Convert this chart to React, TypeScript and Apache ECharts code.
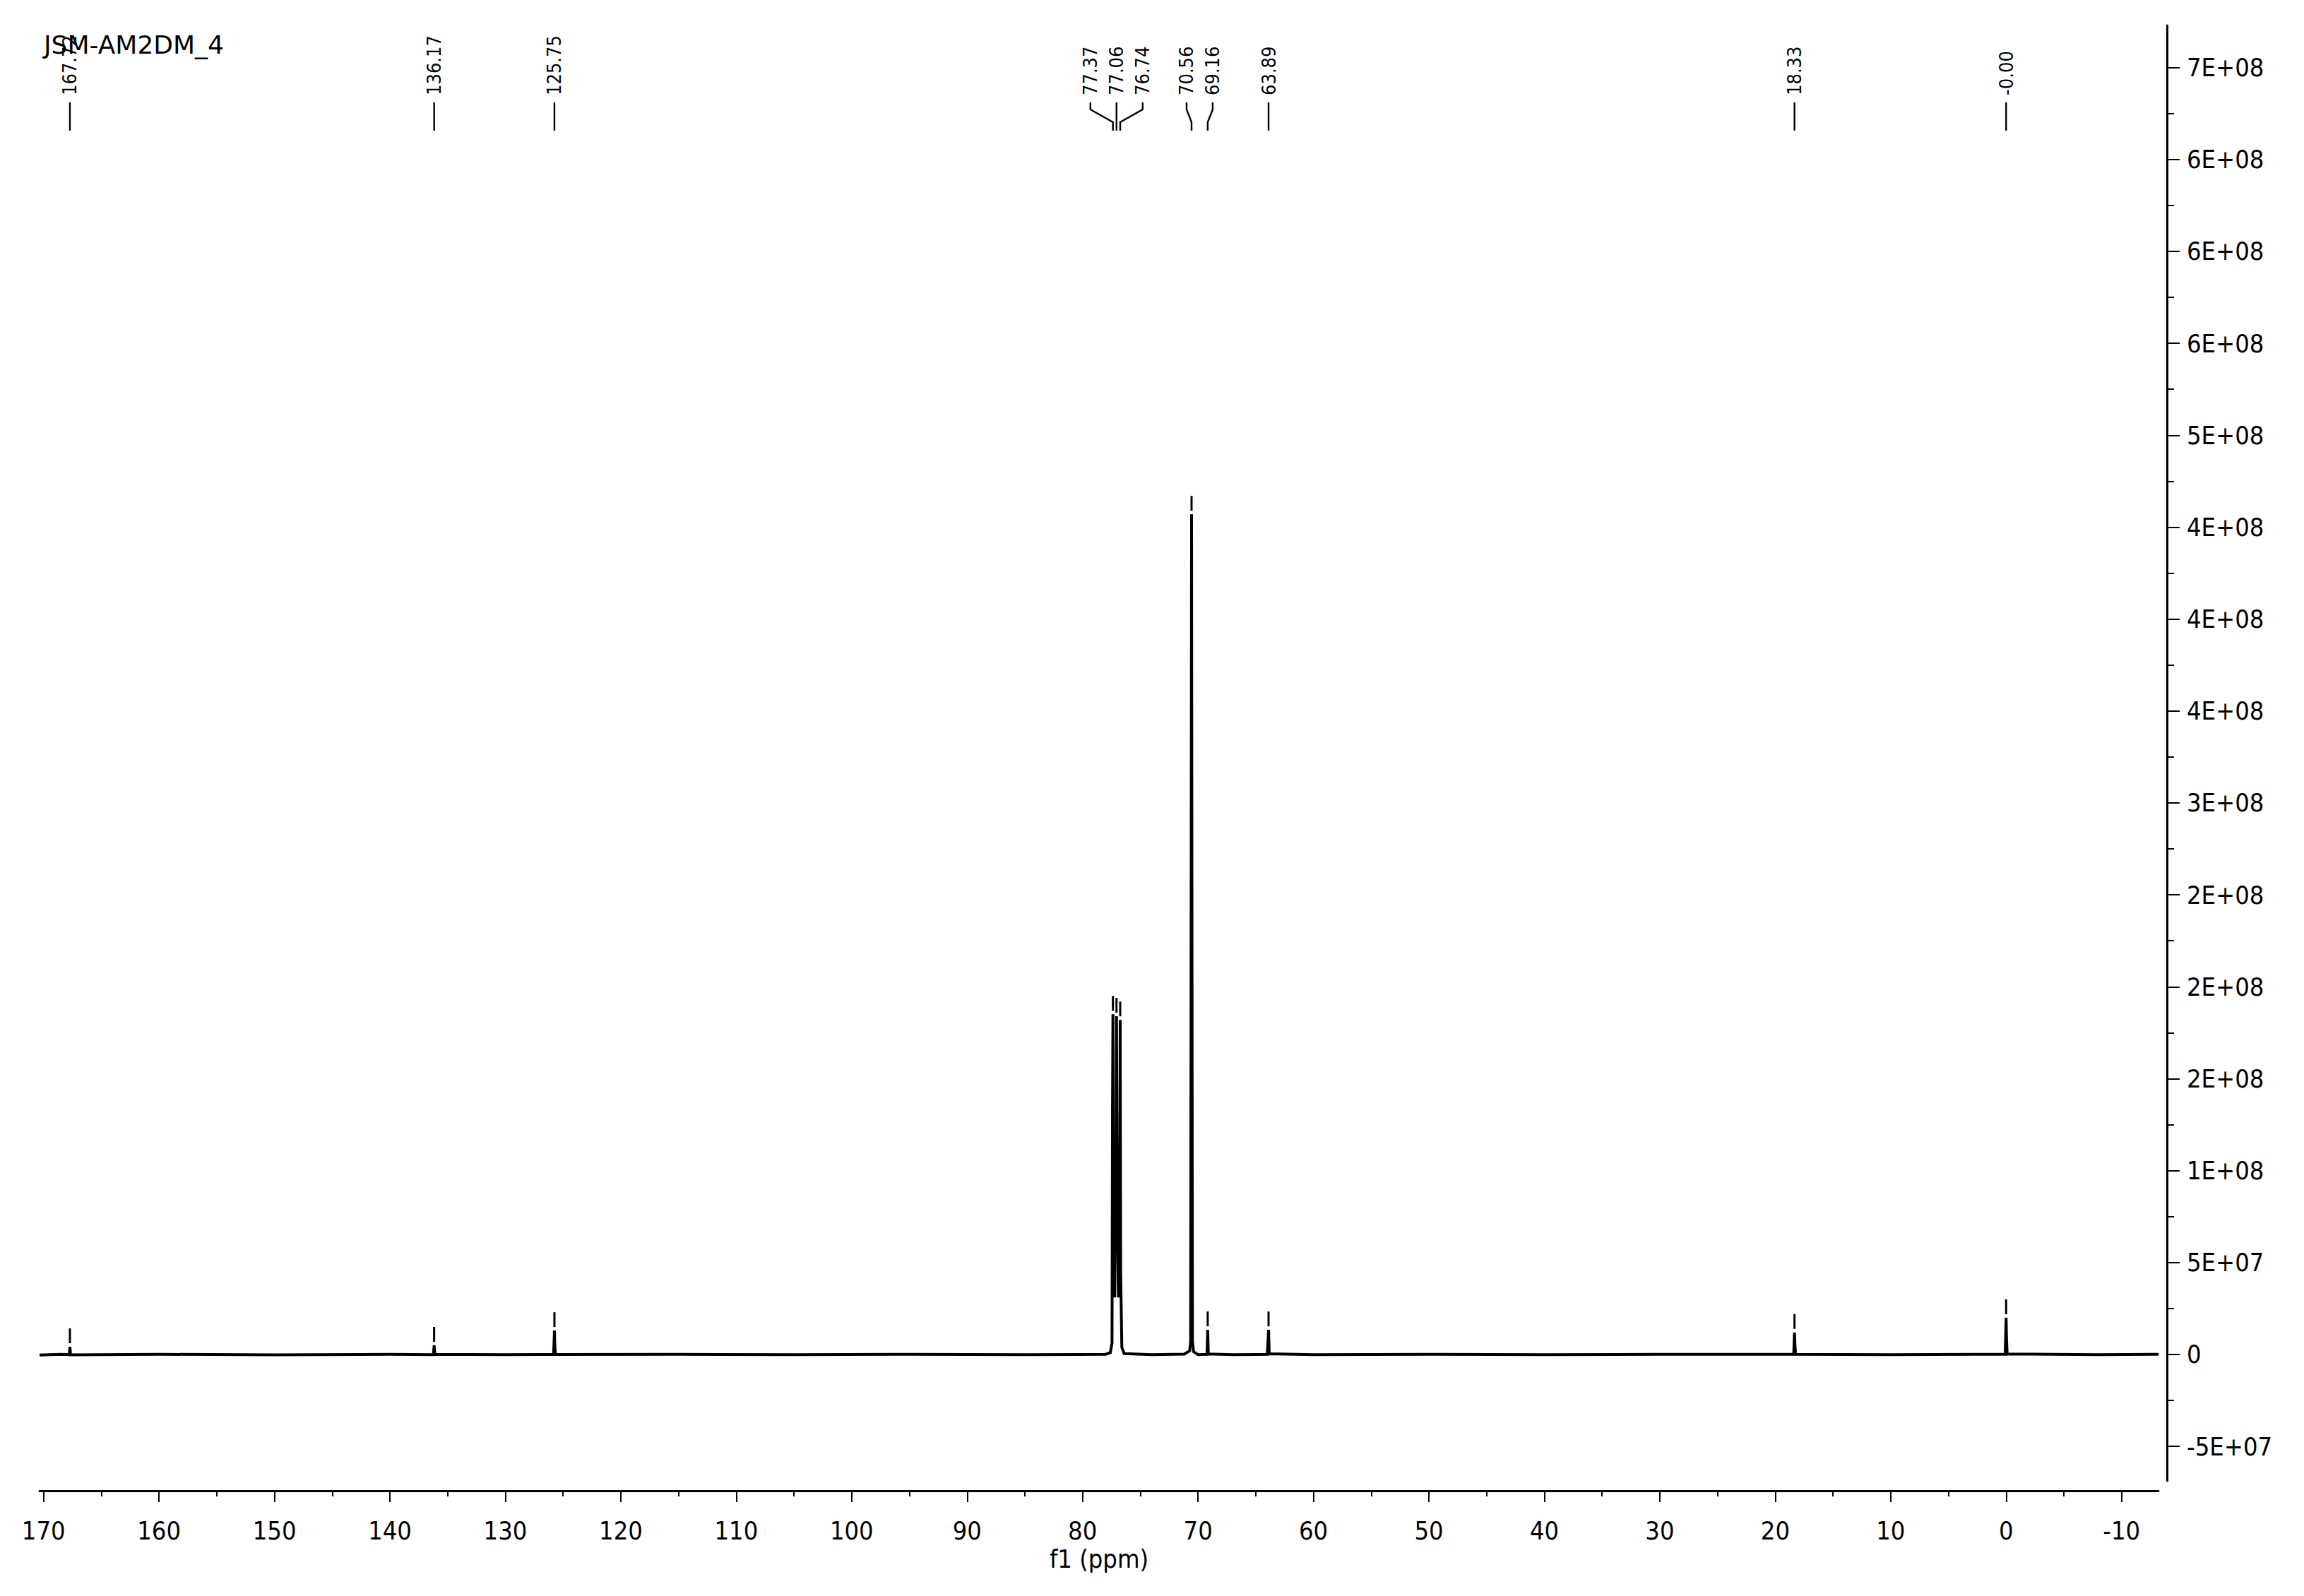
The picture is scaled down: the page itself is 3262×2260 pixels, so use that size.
import React, { useEffect, useRef } from "react";
import * as echarts from "echarts";

const W = 3262;
const H = 2260;

const titleText = "JSM-AM2DM_4";
const xAxisName = "f1 (ppm)";

const xTickValues = [170, 160, 150, 140, 130, 120, 110, 100, 90, 80, 70, 60, 50, 40, 30, 20, 10, 0, -10];
const xTickLabels = ["170", "160", "150", "140", "130", "120", "110", "100", "90", "80", "70", "60", "50", "40", "30", "20", "10", "0", "-10"];
const xMinorTickValues = [165, 155, 145, 135, 125, 115, 105, 95, 85, 75, 65, 55, 45, 35, 25, 15, 5, -5];

const yTickValues = [-5e7, 0, 5e7, 1e8, 1.5e8, 2e8, 2.5e8, 3e8, 3.5e8, 4e8, 4.5e8, 5e8, 5.5e8, 6e8, 6.5e8, 7e8];
const yTickLabels = ["-5E+07", "0", "5E+07", "1E+08", "2E+08", "2E+08", "2E+08", "3E+08", "4E+08", "4E+08", "4E+08", "5E+08", "6E+08", "6E+08", "6E+08", "7E+08"];
const yMinorTickValues = [-2.5e7, 2.5e7, 7.5e7, 1.25e8, 1.75e8, 2.25e8, 2.75e8, 3.25e8, 3.75e8, 4.25e8, 4.75e8, 5.25e8, 5.75e8, 6.25e8, 6.75e8];

// picked peaks
const peakPpm = [167.72, 136.17, 125.75, 77.37, 77.06, 76.74, 70.56, 69.16, 63.89, 18.33, 0.0];
const peakLabels = ["167.72", "136.17", "125.75", "77.37", "77.06", "76.74", "70.56", "69.16", "63.89", "18.33", "-0.00"];
const peakHeights = [4.2e6, 5.0e6, 1.3e7, 1.85e8, 1.84e8, 1.82e8, 4.57e8, 1.34e7, 1.34e7, 1.2e7, 2.0e7];

// spectrum trace (ppm, intensity)
const spectrumPpm = [
  170.35, 168.5, 167.78, 167.72, 167.66, 160, 150, 140, 136.23, 136.17, 136.11, 130,
  125.82, 125.75, 125.71, 125.66, 115, 105, 95, 85, 78.0,
  77.6, 77.45, 77.41, 77.37, 77.33, 77.22, 77.1, 77.06, 77.02, 76.9, 76.78, 76.74, 76.7, 76.6, 76.4,
  74, 71.2, 70.72, 70.64, 70.6, 70.56, 70.52, 70.48, 70.38, 70.0,
  69.22, 69.16, 69.11, 67, 64.0, 63.89, 63.83, 60, 50, 40, 30,
  18.4, 18.33, 18.29, 18.24, 10, 0.08, 0.0, -0.04, -0.09, -8, -13.2,
];
const spectrumIntensity = [
  -0.3e6, 0.1e6, -0.1e6, 4.2e6, -0.2e6, 0.1e6, -0.2e6, 0.1e6, -0.1e6, 5.0e6, 0.1e6, -0.1e6,
  0.1e6, 1.3e7, 4e6, 0, 0.1e6, -0.1e6, 0.1e6, -0.1e6, 0.1e6,
  1.0e6, 6e6, 1.32e8, 1.85e8, 5.7e7, 3.1e7, 1.19e8, 1.84e8, 1.03e8, 3.1e7, 1.1e8, 1.82e8, 4.5e7, 4e6, 0.5e6,
  -0.1e6, 0.2e6, 2e6, 7e6, 2.2e8, 4.57e8, 2.1e8, 7e6, 1.5e6, -0.1e6,
  0.1e6, 1.34e7, 0.3e6, -0.1e6, 0.1e6, 1.34e7, 0.4e6, -0.1e6, 0.1e6, -0.1e6, 0.1e6,
  0.1e6, 1.2e7, 5e6, 0.1e6, -0.1e6, 0.1e6, 2.0e7, 8e6, 0.3e6, -0.1e6, 0.1e6,
];

const FONT = "'DejaVu Sans Condensed', 'DejaVu Sans', sans-serif";
const TITLE_FONT = "'DejaVu Sans', sans-serif";
const LABEL_SPACING = 37;

function layoutLabels(xs: number[]): number[] {
  const S = LABEL_SPACING;
  const order = xs.map((_, i) => i).sort((a, b) => xs[a] - xs[b]);
  let groups = order.map((i) => ({ idx: [i], center: xs[i] }));
  let merged = true;
  while (merged) {
    merged = false;
    for (let g = 0; g < groups.length - 1; g++) {
      const a = groups[g];
      const b = groups[g + 1];
      const aRight = a.center + ((a.idx.length - 1) / 2) * S;
      const bLeft = b.center - ((b.idx.length - 1) / 2) * S;
      if (bLeft - aRight < S) {
        const idx = a.idx.concat(b.idx);
        const center = idx.reduce((s, k) => s + xs[k], 0) / idx.length;
        groups.splice(g, 2, { idx, center });
        merged = true;
        break;
      }
    }
  }
  const out: number[] = new Array(xs.length).fill(0);
  groups.forEach((g) => g.idx.forEach((i, k) => (out[i] = g.center + (k - (g.idx.length - 1) / 2) * S)));
  return out;
}

function lookup(values: number[], labels: string[], v: number): string {
  const i = values.findIndex((t) => Math.abs(t - v) < 1e-6 * Math.max(1, Math.abs(t)));
  return i >= 0 ? labels[i] : "";
}

export default function App() {
  const ref = useRef<HTMLDivElement>(null);
  useEffect(() => {
    if (!ref.current) return;
    document.body.style.margin = "0";
    const chart = echarts.init(ref.current, null, { renderer: "svg", width: W, height: H });

    const X_MIN = -13.2;
    const X_MAX = 170.35;
    const Y_MIN = -6.876e7;
    const Y_MAX = 7.229e8;

    const xCommon = {
      type: "value" as const,
      inverse: true,
      min: X_MIN,
      max: X_MAX,
      position: "bottom" as const,
      offset: 14,
      splitLine: { show: false },
    };
    const yCommon = {
      type: "value" as const,
      min: Y_MIN,
      max: Y_MAX,
      position: "right" as const,
      offset: 12,
      splitLine: { show: false },
    };

    const option: any = {
      animation: false,
      backgroundColor: "#fff",
      grid: { left: 56, right: 206, top: 36, bottom: 163, containLabel: false },
      xAxis: [
        {
          ...xCommon,
          axisLine: { show: true, onZero: false, lineStyle: { color: "#000", width: 3 } },
          axisTick: { show: true, customValues: xTickValues, length: 16, lineStyle: { color: "#000", width: 2 } },
          axisLabel: {
            show: true,
            customValues: xTickValues,
            formatter: (v: number) => lookup(xTickValues, xTickLabels, v),
            color: "#000",
            fontSize: 36,
            fontFamily: FONT,
            margin: 38,
          },
          name: xAxisName,
          nameLocation: "middle",
          nameGap: 78,
          nameTextStyle: { color: "#000", fontSize: 36, fontFamily: FONT },
        },
        {
          ...xCommon,
          axisLine: { show: false, onZero: false },
          axisTick: { show: true, customValues: xMinorTickValues, length: 8, lineStyle: { color: "#000", width: 2 } },
          axisLabel: { show: false },
        },
      ],
      yAxis: [
        {
          ...yCommon,
          axisLine: { show: true, onZero: false, lineStyle: { color: "#000", width: 3 } },
          axisTick: { show: true, customValues: yTickValues, length: 18, lineStyle: { color: "#000", width: 2 } },
          axisLabel: {
            show: true,
            customValues: yTickValues,
            formatter: (v: number) => lookup(yTickValues, yTickLabels, v),
            color: "#000",
            fontSize: 36,
            fontFamily: FONT,
            margin: 28,
          },
        },
        {
          ...yCommon,
          axisLine: { show: false, onZero: false },
          axisTick: { show: true, customValues: yMinorTickValues, length: 10, lineStyle: { color: "#000", width: 2 } },
          axisLabel: { show: false },
        },
      ],
      graphic: [
        {
          type: "text",
          left: 62,
          top: 45,
          z: 10,
          style: { text: titleText, fontSize: 36, fontFamily: TITLE_FONT, fill: "#000" },
        },
      ],
      series: [
        {
          type: "line",
          xAxisIndex: 0,
          yAxisIndex: 0,
          showSymbol: false,
          symbol: "none",
          silent: true,
          lineStyle: { color: "#000", width: 4, join: "miter" },
          data: spectrumPpm.map((p, i) => [p, spectrumIntensity[i]]),
        },
        {
          type: "custom",
          xAxisIndex: 0,
          yAxisIndex: 0,
          silent: true,
          data: peakPpm.map((p, i) => [p, peakHeights[i]]),
          encode: { x: 0, y: 1 },
          renderItem: (params: any, api: any) => {
            const i = params.dataIndex;
            const xs = peakPpm.map((p) => api.coord([p, 0])[0]);
            const lxs = layoutLabels(xs);
            const px = xs[i];
            const lx = lxs[i];
            const topY = api.coord([peakPpm[i], peakHeights[i]])[1];
            const straight = Math.abs(lx - px) < 1.5;
            const pts = straight
              ? [[px, 145], [px, 185]]
              : [[lx, 145], [lx, 155], [px, 173], [px, 185]];
            return {
              type: "group",
              children: [
                {
                  type: "text",
                  x: lx,
                  y: 135,
                  rotation: Math.PI / 2,
                  style: {
                    text: peakLabels[i],
                    fontSize: 27,
                    fontFamily: FONT,
                    fill: "#000",
                    align: "left",
                    verticalAlign: "middle",
                  },
                },
                {
                  type: "polyline",
                  shape: { points: pts },
                  style: { stroke: "#000", lineWidth: 2.4, fill: null },
                },
                {
                  type: "line",
                  shape: { x1: px, y1: topY - 26, x2: px, y2: topY - 5 },
                  style: { stroke: "#000", lineWidth: 3 },
                },
              ],
            };
          },
        },
      ],
    };

    chart.setOption(option);
    return () => chart.dispose();
  }, []);
  return <div ref={ref} style={{ position: "absolute", left: 0, top: 0, width: W, height: H, background: "#fff" }} />;
}
